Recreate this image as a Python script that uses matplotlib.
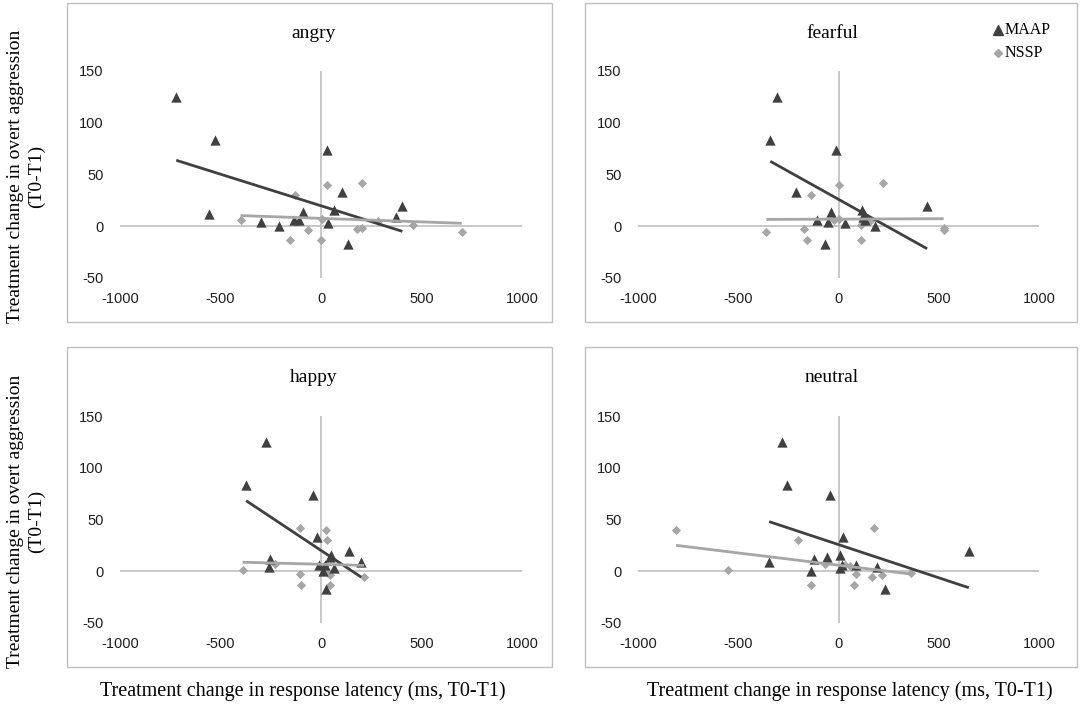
import numpy as np
import matplotlib

matplotlib.use("Agg")
import matplotlib.pyplot as plt
from matplotlib.patches import Rectangle

# shared outcome values (same participants in every panel)
maap_y = [125, 83, 74, 33, 20, 16, 14, 12, 9, 6, 6, 4, 3, 0, -17]
nssp_y = [42, 40, 30, 7, 6, 5, 1, -2, -3, -4, -6, -13, -13]

# response latency change per emotion, in the same order as the y lists
emotions = ["angry", "fearful", "happy", "neutral"]
maap_x_angry = [-720, -525, 30, 105, 405, 65, -90, -555, 375, -135, -110, -300, 35, -210, 135]
maap_x_fearful = [-305, -340, -12, -210, 442, 115, -35, 125, 122, -108, 130, -52, 32, 182, -65]
maap_x_happy = [-275, -372, -40, -18, 140, 50, 45, -252, 200, 20, -10, -257, 65, 10, 26]
maap_x_neutral = [-280, -259, -40, 21, 650, 6, -55, -121, -346, 86, 18, 193, 8, -137, 232]

nssp_x_angry = [205, 30, -130, 5, -400, 285, 460, 205, 180, -65, 700, -155, 0]
nssp_x_fearful = [222, 0, -135, 0, -20, 155, 110, 525, -172, 525, -360, -158, 110]
nssp_x_happy = [-103, 23, 31, -230, 21, 15, -390, 35, -103, 46, 215, -100, 46]
nssp_x_neutral = [175, -810, -200, -66, 30, 56, -549, 360, 86, 218, 168, -138, 76]

x_ticks = [-1000, -500, 0, 500, 1000]
y_ticks = [-50, 0, 50, 100, 150]

maap_x = [maap_x_angry, maap_x_fearful, maap_x_happy, maap_x_neutral]
nssp_x = [nssp_x_angry, nssp_x_fearful, nssp_x_happy, nssp_x_neutral]

W, H = 1084, 706
DARK = "#404040"
LIGHT = "#a6a6a6"
AXIS = "#bfbfbf"
SERIF = "Liberation Serif"
SANS = "Liberation Sans"


def fx(px):
    return px / W


def fy(py):
    return 1 - py / H


fig = plt.figure(figsize=(W / 100, H / 100), dpi=100)

# pixel layout: (box left, box right, box top, box bottom, axes left, axes right, axes top, axes bottom, title x, title y)
layout = [
    (67, 552, 3, 322, 120, 522, 71, 278, 314, 33),
    (585, 1077, 3, 322, 638, 1039, 71, 278, 832, 33),
    (67, 552, 347, 667, 120, 522, 416, 623, 314, 378),
    (585, 1077, 347, 667, 638, 1039, 416, 623, 832, 378),
]


def trend(ax, xs, ys, color):
    xs = np.asarray(xs, dtype=float)
    ys = np.asarray(ys, dtype=float)
    slope, icpt = np.polyfit(xs, ys, 1)
    xl = np.array([xs.min(), xs.max()])
    ax.plot(xl, slope * xl + icpt, color=color, lw=2.0, solid_capstyle="butt", zorder=4)


for i, name in enumerate(emotions):
    bl, br, bt, bb, al, ar, at, ab, tx, ty = layout[i]
    fig.patches.append(Rectangle((fx(bl), fy(bb)), fx(br - bl), (bb - bt) / H,
                                 transform=fig.transFigure, fill=False,
                                 edgecolor=AXIS, lw=1.0))
    ax = fig.add_axes([fx(al), fy(ab), fx(ar - al), (ab - at) / H])
    ax.set_xlim(-1000, 1000)
    ax.set_ylim(-50, 150)
    for s in ax.spines.values():
        s.set_visible(False)
    ax.patch.set_visible(False)
    ax.axhline(0, color=AXIS, lw=1.2, zorder=1)
    ax.axvline(0, color=AXIS, lw=1.2, zorder=1)
    ax.set_xticks(x_ticks)
    ax.set_yticks(y_ticks)
    ax.set_xticklabels([str(t) for t in x_ticks], fontfamily=SANS, fontsize=10.5)
    ax.set_yticklabels([str(t) for t in y_ticks], fontfamily=SANS, fontsize=10.5)
    ax.tick_params(length=0, pad=12, colors="#1f1f1f")
    ax.tick_params(axis="x", pad=10)

    ax.scatter(nssp_x[i], nssp_y, marker="D", s=22, color=LIGHT, lw=0, zorder=3, label="NSSP")
    ax.scatter(maap_x[i], maap_y, marker="^", s=55, color=DARK, lw=0, zorder=3, label="MAAP")
    trend(ax, maap_x[i], maap_y, DARK)
    trend(ax, nssp_x[i], nssp_y, LIGHT)

    fig.text(fx(tx), fy(ty), name, ha="center", va="center", fontfamily=SERIF, fontsize=14)

# legend in the fearful panel
fig.lines.append(plt.Line2D([fx(998)], [fy(30)], marker="^", ms=7.5, color=DARK, lw=0,
                            transform=fig.transFigure))
fig.lines.append(plt.Line2D([fx(998)], [fy(53)], marker="D", ms=4.5, color=LIGHT, lw=0,
                            transform=fig.transFigure))
fig.text(fx(1005), fy(30), "MAAP", ha="left", va="center", fontfamily=SERIF, fontsize=11.5)
fig.text(fx(1005), fy(53), "NSSP", ha="left", va="center", fontfamily=SERIF, fontsize=11.5)

# shared axis labels
for cy in (176, 521):
    fig.text(fx(26), fy(cy), "Treatment change in overt aggression\n(T0-T1)", rotation=90,
             ha="center", va="center", multialignment="center", fontfamily=SERIF, fontsize=14,
             linespacing=1.35)
for cx in (303, 850):
    fig.text(fx(cx), fy(691), "Treatment change in response latency (ms, T0-T1)",
             ha="center", va="center", fontfamily=SERIF, fontsize=14.5)

fig.savefig("out.png", dpi=100)
plt.close(fig)
